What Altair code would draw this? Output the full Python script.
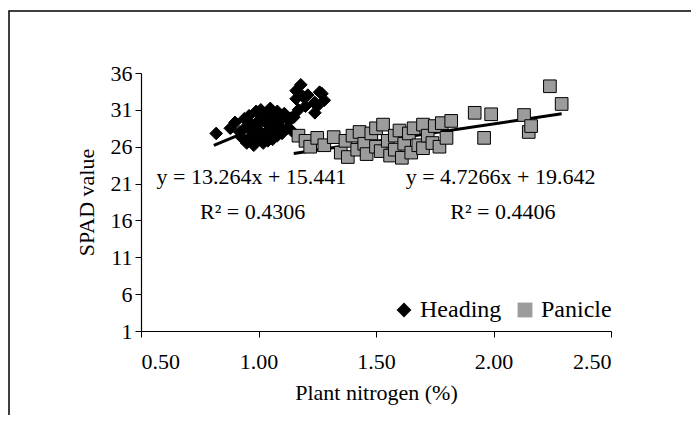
import altair as alt
import pandas as pd

# ---- data ----
heading_x = [0.82, 0.88, 0.90, 0.92, 0.93, 0.94, 0.95, 0.95, 0.96, 0.97, 0.97, 0.98, 0.98, 0.99,
             1.00, 1.00, 1.01, 1.01, 1.02, 1.02, 1.03, 1.03, 1.04, 1.04, 1.05, 1.05, 1.06, 1.06,
             1.07, 1.07, 1.08, 1.08, 1.09, 1.10, 1.10, 1.11, 1.12, 1.13, 1.14, 1.15, 1.16, 1.17,
             1.18, 1.19, 1.20, 1.21, 1.24, 1.25, 1.27, 1.16, 1.26, 1.28, 1.24]
heading_y = [27.8, 28.5, 29.3, 28.0, 27.2, 29.8, 26.5, 28.8, 30.2, 27.5, 29.0, 26.2, 28.3, 30.8,
             27.0, 29.5, 28.0, 31.0, 26.5, 29.8, 27.8, 30.5, 26.8, 29.0, 28.2, 31.2, 27.0, 30.0,
             28.5, 29.5, 27.5, 30.8, 28.8, 29.8, 27.8, 30.5, 28.5, 29.5, 28.2, 30.0, 32.5, 31.0,
             34.4, 32.8, 31.5, 33.0, 32.0, 31.5, 33.2, 33.6, 33.4, 32.3, 30.6]

panicle_x = [1.17, 1.20, 1.22, 1.25, 1.28, 1.32, 1.35, 1.37, 1.38, 1.40, 1.42, 1.43, 1.45, 1.46,
             1.48, 1.50, 1.50, 1.52, 1.53, 1.55, 1.56, 1.58, 1.58, 1.60, 1.61, 1.62, 1.64, 1.65,
             1.66, 1.68, 1.70, 1.70, 1.72, 1.74, 1.75, 1.77, 1.78, 1.80, 1.82, 1.92, 1.96, 1.99,
             2.13, 2.15, 2.16, 2.24, 2.29]
panicle_y = [27.5, 26.8, 26.0, 27.2, 26.2, 27.3, 25.2, 26.8, 24.6, 27.5, 25.6, 28.0, 26.4, 25.0,
             27.8, 26.0, 28.5, 25.4, 29.0, 26.8, 24.8, 27.5, 25.6, 28.2, 24.5, 26.4, 27.8, 25.2,
             28.5, 26.2, 29.0, 25.8, 27.5, 26.5, 28.8, 26.0, 29.2, 27.2, 29.5, 30.6, 27.2, 30.4,
             30.3, 28.0, 28.8, 34.2, 31.8]

series = ["Heading", "Panicle"]
slopes = [13.264, 4.7266]
intercepts = [15.441, 19.642]
trend_x_ends = [[0.81, 1.28], [1.15, 2.29]]

eq_text = ["y = 13.264x + 15.441", "y = 4.7266x + 19.642"]
r2_text = ["R\u00b2 = 0.4306", "R\u00b2 = 0.4406"]
eq_pos_x = [0.97, 2.03]
r2_pos_x = [0.975, 2.04]
eq_pos_y = [21.9, 21.9]
r2_pos_y = [17.2, 17.2]

x_ticks = [0.5, 1.0, 1.5, 2.0, 2.5]
y_ticks = [1, 6, 11, 16, 21, 26, 31, 36]

FONT = "Liberation Serif"
FS = 22

# ---- tables ----
pts = pd.DataFrame({
    "x": heading_x + panicle_x,
    "y": heading_y + panicle_y,
    "group": ["Heading"] * len(heading_x) + ["Panicle"] * len(panicle_x),
})

trend_rows = []
for g, m, b, xs in zip(series, slopes, intercepts, trend_x_ends):
    for xv in xs:
        trend_rows.append({"x": xv, "y": m * xv + b, "group": g})
trend = pd.DataFrame(trend_rows)

labels = pd.DataFrame({
    "x": eq_pos_x + r2_pos_x,
    "y": eq_pos_y + r2_pos_y,
    "text": eq_text + r2_text,
})

xscale = alt.Scale(domain=[0.5, 2.5], nice=False, zero=False)
yscale = alt.Scale(domain=[1, 36], nice=False, zero=False)

xaxis = alt.Axis(values=x_ticks, format=".2f", grid=False, title="Plant nitrogen (%)",
                 tickSize=6, labelPadding=14, titlePadding=10, labelOverlap=False,
                 tickCount=len(x_ticks))
yaxis = alt.Axis(values=y_ticks, format="d", grid=False, title="SPAD value",
                 tickSize=6, labelPadding=3, titlePadding=12, labelOverlap=False,
                 tickCount=len(y_ticks))

legend = alt.Legend(title=None, orient="none", legendX=251, legendY=225,
                    direction="horizontal", labelFontSize=24, labelFont=FONT,
                    labelColor="black", symbolSize=220, columnPadding=11,
                    symbolStrokeColor="black", symbolStrokeWidth=1, labelOffset=4)

points = alt.Chart(pts).mark_point(filled=True, size=160, opacity=1, stroke="black",
                                   strokeWidth=1).encode(
    x=alt.X("x:Q", scale=xscale, axis=xaxis),
    y=alt.Y("y:Q", scale=yscale, axis=yaxis),
    shape=alt.Shape("group:N", scale=alt.Scale(domain=series, range=["diamond", "square"]),
                    legend=legend),
    fill=alt.Fill("group:N", scale=alt.Scale(domain=series, range=["black", "#9c9c9c"]),
                  legend=legend),
)

lines = alt.Chart(trend).mark_line(color="black", strokeWidth=3).encode(
    x=alt.X("x:Q", scale=xscale, axis=xaxis),
    y=alt.Y("y:Q", scale=yscale, axis=yaxis),
    detail="group:N",
)

texts = alt.Chart(labels).mark_text(font=FONT, fontSize=FS, color="black").encode(
    x=alt.X("x:Q", scale=xscale, axis=xaxis),
    y=alt.Y("y:Q", scale=yscale, axis=yaxis),
    text="text:N",
)

frame = alt.Chart(pd.DataFrame({"k": [0]})).mark_rect(
    fill="transparent", stroke="black", strokeWidth=1.5).encode(
    x=alt.value(-132), x2=alt.value(700), y=alt.value(-62), y2=alt.value(500))

chart = alt.layer(frame, lines, points, texts).properties(
    width=470, height=258,
    autosize=alt.AutoSizeParams(type="none"),
    padding={"left": 133, "top": 65, "right": 80, "bottom": 84},
).configure_view(stroke=None).configure_axis(
    labelFont=FONT, titleFont=FONT, labelFontSize=FS, titleFontSize=FS,
    labelColor="black", titleColor="black", titleFontWeight="normal",
    domainColor="black", tickColor="black", domainWidth=1.2,
)

chart.save("out.html", embed_options={"renderer": "svg", "actions": False})
